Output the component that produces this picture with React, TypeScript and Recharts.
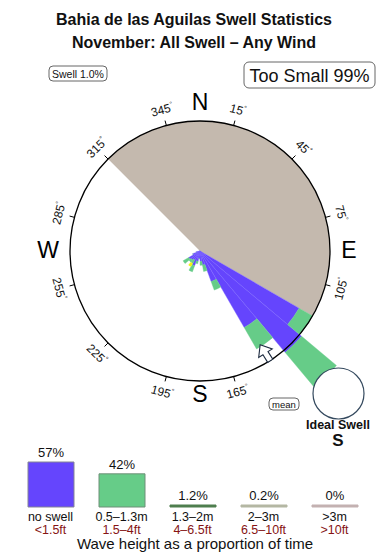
import React from 'react';
import {
  PieChart, Pie, Cell, RadialBarChart, RadialBar, PolarAngleAxis, PolarRadiusAxis,
  BarChart, Bar, XAxis, YAxis, LabelList,
} from 'recharts';

// swell rose: 10 degree direction bins, radius in % of time (ring = 10)
const dirs = [5, 15, 25, 35, 45, 55, 65, 75, 85, 95, 105, 115, 125, 135, 145, 155, 165, 175,
  185, 195, 205, 215, 225, 235, 245, 255, 265, 275, 285, 295, 305, 315, 325, 335, 345, 355];
const smallSwell = [0, 0, 0, 0, 0, 0, 0, 0, 0, 0, 0, 0, 8.8, 10.2, 6.8, 2.5, 1.1, 0.8,
  0.6, 0.8, 1.2, 0.8, 0.9, 1.0, 0.6, 0.3, 0, 0, 0, 0, 0, 0, 0, 0, 0, 0];
const midSwell = [0, 0, 0, 0, 0, 0, 0, 0, 0, 0, 0, 0, 1.2, 3.5, 1.9, 0.7, 0.5, 0.3,
  0, 0.2, 0.5, 0.3, 0.2, 0.5, 0, 0, 0, 0, 0, 0, 0, 0, 0, 0, 0, 0];
const bigSwell = [0, 0, 0, 0, 0, 0, 0, 0, 0, 0, 0, 0, 0, 0, 0, 0, 0, 0,
  0, 0, 0, 0.3, 0, 0, 0, 0, 0, 0, 0, 0, 0, 0, 0, 0, 0, 0];

// shadowed sector (blocked directions), starting at 315 deg clockwise
const shadowNames = ['blocked', 'open'];
const shadowSpans = [165, 195];

// legend
const heightBands = ['no swell', '0.5–1.3m', '1.3–2m', '2–3m', '>3m'];
const feetBands = ['<1.5ft', '1.5–4ft', '4–6.5ft', '6.5–10ft', '>10ft'];
const shares = [57, 42, 1.2, 0.2, 0];
const bandFills = ['#6545fd', '#66cc88', '#4f7f4f', '#b4b7a3', '#c3b1b1'];
const bandStrokes = ['#858595', '#6f8f78', '#4f7f4f', '#b4b7a3', '#c3b1b1'];

const rose = dirs.map((dir, i) => ({ dir, small: smallSwell[i], mid: midSwell[i], big: bigSwell[i] }));
const shadow = shadowNames.map((name, i) => ({ name, span: shadowSpans[i] }));
const legend = heightBands.map((band, i) => ({ band, feet: feetBands[i], share: shares[i] }));

const CX = 200;
const CY = 251;
const R = 130; // the 10% ring
const RMAX = 14; // radial domain of the bar layer
const FONT = '"Liberation Sans", Arial, Helvetica, sans-serif';

const RoseTick = (props: any) => {
  const bearing = Number(props.payload?.value);
  if ((bearing - 15) % 30 !== 0 || bearing === 135) return <g />;
  const rad = ((90 - bearing) * Math.PI) / 180;
  const pt = (r: number) => [CX + r * Math.cos(rad), CY - r * Math.sin(rad)];
  const [x1, y1] = pt(R);
  const [x2, y2] = pt(R + 5);
  const [lx, ly] = pt(R + 16);
  const rot = bearing <= 90 ? bearing : bearing < 270 ? bearing - 180 : bearing - 360;
  return (
    <g>
      <line x1={x1} y1={y1} x2={x2} y2={y2} stroke="#000" strokeWidth={1} />
      <text
        transform={`translate(${lx},${ly}) rotate(${rot})`}
        textAnchor="middle"
        dominantBaseline="central"
        fontSize={12}
        fontFamily={FONT}
        fill="#111"
      >
        {bearing}
        <tspan fontSize={7} dy={-4}>°</tspan>
      </text>
    </g>
  );
};

const LegendTick = (props: any) => {
  const { x, index, payload } = props;
  return (
    <g fontFamily={FONT} textAnchor="middle">
      <text x={x} y={91} fontSize={12.5} fill="#111">{payload.value}</text>
      <text x={x} y={103.5} fontSize={12.5} fill="#861414">{feetBands[index]}</text>
    </g>
  );
};

const layer: React.CSSProperties = { position: 'absolute', left: 0, top: 0 };
const noMargin = { top: 0, right: 0, bottom: 0, left: 0 };

export default function App() {
  return (
    <div style={{ position: 'relative', width: 390, height: 560, background: '#fff', overflow: 'hidden' }}>
      <style>{'body{margin:0}'}</style>

      {/* shadowed directions */}
      <div style={layer}>
        <PieChart width={390} height={560} margin={noMargin}>
          <Pie
            data={shadow}
            dataKey="span"
            nameKey="name"
            cx={CX}
            cy={CY}
            outerRadius={R}
            startAngle={135}
            endAngle={-225}
            stroke="none"
            isAnimationActive={false}
          >
            <Cell fill="#c4b9ae" />
            <Cell fill="transparent" />
          </Pie>
        </PieChart>
      </div>

      {/* swell rose bars */}
      <div style={layer}>
        <RadialBarChart
          width={390}
          height={560}
          cx={CX}
          cy={CY}
          innerRadius={0}
          outerRadius={(R * RMAX) / 10}
          startAngle={80}
          endAngle={-280}
          layout="centric"
          data={rose}
          barCategoryGap={0}
          margin={noMargin}
        >
          <PolarAngleAxis type="category" dataKey="dir" axisLine={false} tickLine={false} tick={false} />
          <PolarRadiusAxis type="number" domain={[0, RMAX]} tick={false} axisLine={false} />
          <RadialBar dataKey="small" stackId="s" fill="#6545fd" stroke="#7a62ff" strokeWidth={0.4} isAnimationActive={false} />
          <RadialBar dataKey="mid" stackId="s" fill="#66cc88" stroke="#66cc88" strokeWidth={0.4} isAnimationActive={false} />
          <RadialBar dataKey="big" stackId="s" fill="#f2f215" isAnimationActive={false} />
        </RadialBarChart>
      </div>

      {/* ring with degree ticks */}
      <div style={layer}>
        <RadialBarChart
          width={390}
          height={560}
          cx={CX}
          cy={CY}
          innerRadius={0}
          outerRadius={R}
          startAngle={80}
          endAngle={-280}
          layout="centric"
          data={rose}
          margin={noMargin}
        >
          <PolarRadiusAxis type="number" domain={[0, 10]} tick={false} axisLine={false} />
          <RadialBar dataKey="small" fill="none" isAnimationActive={false} />
          <PolarAngleAxis
            type="category"
            dataKey="dir"
            axisLineType="circle"
            axisLine={{ stroke: '#000', strokeWidth: 1.3 }}
            tickLine={false}
            tick={<RoseTick />}
          />
        </RadialBarChart>
      </div>

      {/* legend */}
      <div style={{ ...layer, top: 430 }}>
        <BarChart width={390} height={130} data={legend} margin={{ top: 32, right: 20, bottom: 23, left: 15 }} barSize={46}>
          <YAxis hide domain={[0, 57]} />
          <XAxis dataKey="band" axisLine={false} tickLine={false} interval={0} height={30} tick={<LegendTick />} />
          <Bar dataKey="share" minPointSize={2} isAnimationActive={false}>
            {legend.map((d, i) => (
              <Cell key={d.band} fill={bandFills[i]} stroke={bandStrokes[i]} strokeWidth={1} />
            ))}
            <LabelList
              dataKey="share"
              position="top"
              offset={5}
              fill="#111"
              fontSize={13}
              fontFamily={FONT}
              formatter={(v: any) => `${v}%`}
            />
          </Bar>
        </BarChart>
      </div>

      {/* annotations */}
      <svg width={390} height={560} style={{ ...layer, pointerEvents: 'none' }} fontFamily={FONT}>
        <text x={194} y={25} textAnchor="middle" fontSize={16} fontWeight="bold" fill="#111">
          Bahia de las Aguilas Swell Statistics
        </text>
        <text x={194} y={48} textAnchor="middle" fontSize={16} fontWeight="bold" fill="#111">
          November: All Swell – Any Wind
        </text>

        <rect x={49} y={66} width={58} height={15} rx={4} fill="#fff" stroke="#666" />
        <text x={78} y={77.5} textAnchor="middle" fontSize={10.5} fill="#111">Swell 1.0%</text>

        <rect x={244} y={62} width={131} height={26} rx={5} fill="#fff" stroke="#666" />
        <text x={309.5} y={82} textAnchor="middle" fontSize={18} fill="#111">Too Small 99%</text>

        <text x={200} y={110} textAnchor="middle" fontSize={23} fill="#000">N</text>
        <text x={349} y={258} textAnchor="middle" fontSize={23} fill="#000">E</text>
        <text x={48} y={258} textAnchor="middle" fontSize={23} fill="#000">W</text>
        <text x={200} y={402} textAnchor="middle" fontSize={23} fill="#000">S</text>

        <g transform="translate(266,354) rotate(-32)">
          <polygon
            points="0,-11 8,-1 3,-1 3,8 -3,8 -3,-1 -8,-1"
            fill="#fff"
            stroke="#1d2b40"
            strokeWidth={1.1}
          />
        </g>

        <rect x={269} y={398} width={30} height={12} rx={4} fill="#fff" stroke="#666" />
        <text x={284} y={407.5} textAnchor="middle" fontSize={9.5} fill="#111">mean</text>

        <circle cx={338.5} cy={393.5} r={25.5} fill="#fff" stroke="#34495e" strokeWidth={1.2} />
        <text x={338} y={429} textAnchor="middle" fontSize={12.5} fontWeight="bold" fill="#111">Ideal Swell</text>
        <text x={338} y={446} textAnchor="middle" fontSize={17} fontWeight="bold" fill="#111">S</text>

        <text x={195} y={549} textAnchor="middle" fontSize={15} fill="#111">
          Wave height as a proportion of time
        </text>
      </svg>
    </div>
  );
}
